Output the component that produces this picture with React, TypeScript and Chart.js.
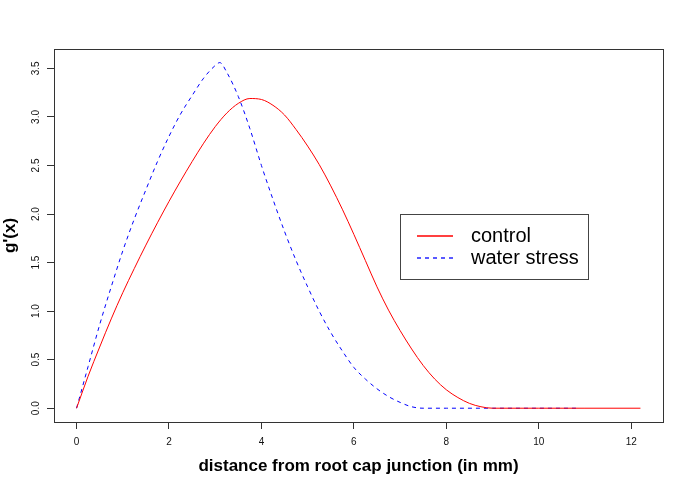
import React, { useEffect, useRef } from "react";
import { Chart, registerables } from "chart.js";

Chart.register(...registerables);

// ---- data ----
const controlX = [0, 0.25, 0.5, 0.75, 1.0, 1.25, 1.5, 1.75, 2.0, 2.25, 2.5, 2.75, 3.0, 3.25, 3.5, 3.75, 4.0, 4.25, 4.5, 4.75, 5.0, 5.25, 5.5, 5.75, 6.0, 6.25, 6.5, 6.75, 7.0, 7.25, 7.5, 7.75, 8.0, 8.25, 8.5, 8.75, 9.0, 10.0, 11.0, 12.2];
const controlY = [0, 0.33, 0.63, 0.92, 1.19, 1.44, 1.68, 1.91, 2.13, 2.34, 2.54, 2.73, 2.90, 3.04, 3.14, 3.19, 3.18, 3.12, 3.02, 2.87, 2.70, 2.51, 2.29, 2.05, 1.79, 1.52, 1.25, 1.01, 0.80, 0.61, 0.44, 0.30, 0.19, 0.11, 0.05, 0.015, 0.0, 0.0, 0.0, 0.0];

const stressX = [0, 0.25, 0.5, 0.75, 1.0, 1.25, 1.5, 1.75, 2.0, 2.25, 2.5, 2.75, 3.0, 3.1, 3.25, 3.5, 3.75, 4.0, 4.25, 4.5, 4.75, 5.0, 5.25, 5.5, 5.75, 6.0, 6.25, 6.5, 6.75, 7.0, 7.25, 7.5, 8.0, 9.0, 10.0, 10.85];
const stressY = [0, 0.43, 0.86, 1.25, 1.62, 1.95, 2.25, 2.54, 2.80, 3.03, 3.22, 3.40, 3.53, 3.56, 3.46, 3.21, 2.88, 2.50, 2.15, 1.82, 1.52, 1.25, 1.00, 0.78, 0.59, 0.42, 0.30, 0.20, 0.12, 0.06, 0.015, 0.0, 0.0, 0.0, 0.0, 0.0];

const seriesLabels = ["control", "water stress"];
const xTicks = [0, 2, 4, 6, 8, 10, 12];
const yTicks = [0, 0.5, 1.0, 1.5, 2.0, 2.5, 3.0, 3.5];
const xRange = [-0.488, 12.688];
const yRange = [-0.142, 3.70];
const legendAt = [7, 2];
const xTitle = "distance from root cap junction (in mm)";
const yTitle = "g'(x)";

const FONT = "'Liberation Sans', Arial, Helvetica, sans-serif";
const COLORS = ["rgb(255, 0, 0)", "rgb(0, 0, 255)"];
const DASHES = [[], [4, 4]];

const framePlugin = {
  id: "rframe",
  afterDraw(chart: any) {
    const { ctx, chartArea: a } = chart;
    ctx.save();
    ctx.setLineDash([]);
    ctx.strokeStyle = "#333";
    ctx.lineWidth = 1;
    ctx.strokeRect(Math.round(a.left) + 0.5, Math.round(a.top) + 0.5, Math.round(a.right - a.left), Math.round(a.bottom - a.top));
    // legend
    const xs = chart.scales.x;
    const ys = chart.scales.y;
    const lx = Math.round(xs.getPixelForValue(legendAt[0]));
    const ly = Math.round(ys.getPixelForValue(legendAt[1]));
    ctx.strokeStyle = "#444";
    ctx.strokeRect(lx + 0.5, ly + 0.5, 188, 65);
    ctx.font = "20px " + FONT;
    ctx.textBaseline = "middle";
    ctx.textAlign = "left";
    seriesLabels.forEach((label, i) => {
      const cy = ly + 22 + i * 22;
      ctx.save();
      ctx.beginPath();
      ctx.lineWidth = 1.3;
      ctx.strokeStyle = COLORS[i];
      ctx.setLineDash(DASHES[i]);
      ctx.moveTo(lx + 17, cy);
      ctx.lineTo(lx + 53, cy);
      ctx.stroke();
      ctx.restore();
      ctx.fillStyle = "#000";
      ctx.fillText(label, lx + 71, cy + 0.5);
    });
    ctx.restore();
  },
};

export default function App() {
  const ref = useRef<HTMLCanvasElement>(null);
  useEffect(() => {
    if (!ref.current) return;
    Chart.defaults.font.family = FONT;
    const chart = new Chart(ref.current, {
      type: "line",
      data: {
        datasets: [
          {
            label: seriesLabels[0],
            data: controlX.map((x, i) => ({ x, y: controlY[i] })),
            borderColor: COLORS[0],
            borderWidth: 1,
            borderDash: DASHES[0],
            pointRadius: 0,
            cubicInterpolationMode: "monotone",
            fill: false,
          },
          {
            label: seriesLabels[1],
            data: stressX.map((x, i) => ({ x, y: stressY[i] })),
            borderColor: COLORS[1],
            borderWidth: 1,
            borderDash: DASHES[1],
            pointRadius: 0,
            cubicInterpolationMode: "monotone",
            fill: false,
          },
        ],
      },
      options: {
        animation: false,
        responsive: false,
        maintainAspectRatio: false,
        layout: { padding: { top: 49, right: 29, left: 0, bottom: 0 } },
        plugins: { legend: { display: false }, tooltip: { enabled: false }, title: { display: false } },
        scales: {
          x: {
            type: "linear",
            min: xRange[0],
            max: xRange[1],
            afterBuildTicks: (s: any) => { s.ticks = xTicks.map((v) => ({ value: v })); },
            afterFit: (s: any) => { s.height = 63; },
            ticks: {
              autoSkip: false,
              maxRotation: 0,
              minRotation: 0,
              padding: 7,
              color: "#111",
              font: { size: 10, family: FONT },
              callback: (v: any) => String(v),
            },
            grid: { drawOnChartArea: false, drawTicks: true, tickLength: 7, color: "#333", lineWidth: 1 },
            border: { display: false },
            title: {
              display: true,
              text: xTitle,
              color: "#000",
              font: { size: 17, weight: "bold", family: FONT },
              padding: { top: 0, bottom: 8 },
            },
          },
          y: {
            type: "linear",
            min: yRange[0],
            max: yRange[1],
            afterBuildTicks: (s: any) => { s.ticks = yTicks.map((v) => ({ value: v })); },
            afterFit: (s: any) => { s.width = 54; },
            ticks: {
              autoSkip: false,
              minRotation: 90,
              maxRotation: 90,
              crossAlign: "center",
              padding: 4,
              color: "#111",
              font: { size: 10, family: FONT },
              callback: (v: any) => Number(v).toFixed(1),
            },
            grid: { drawOnChartArea: false, drawTicks: true, tickLength: 7, color: "#333", lineWidth: 1 },
            border: { display: false },
            title: {
              display: true,
              text: yTitle,
              color: "#000",
              font: { size: 17, weight: "bold", family: FONT },
              padding: { top: 0, bottom: 0 },
            },
          },
        },
      },
      plugins: [framePlugin],
    } as any);
    return () => chart.destroy();
  }, []);
  return (
    <div style={{ position: "fixed", left: 0, top: 0, width: 692, height: 485, background: "#fff" }}>
      <canvas ref={ref} width={692} height={485} style={{ width: 692, height: 485, display: "block" }} />
    </div>
  );
}
